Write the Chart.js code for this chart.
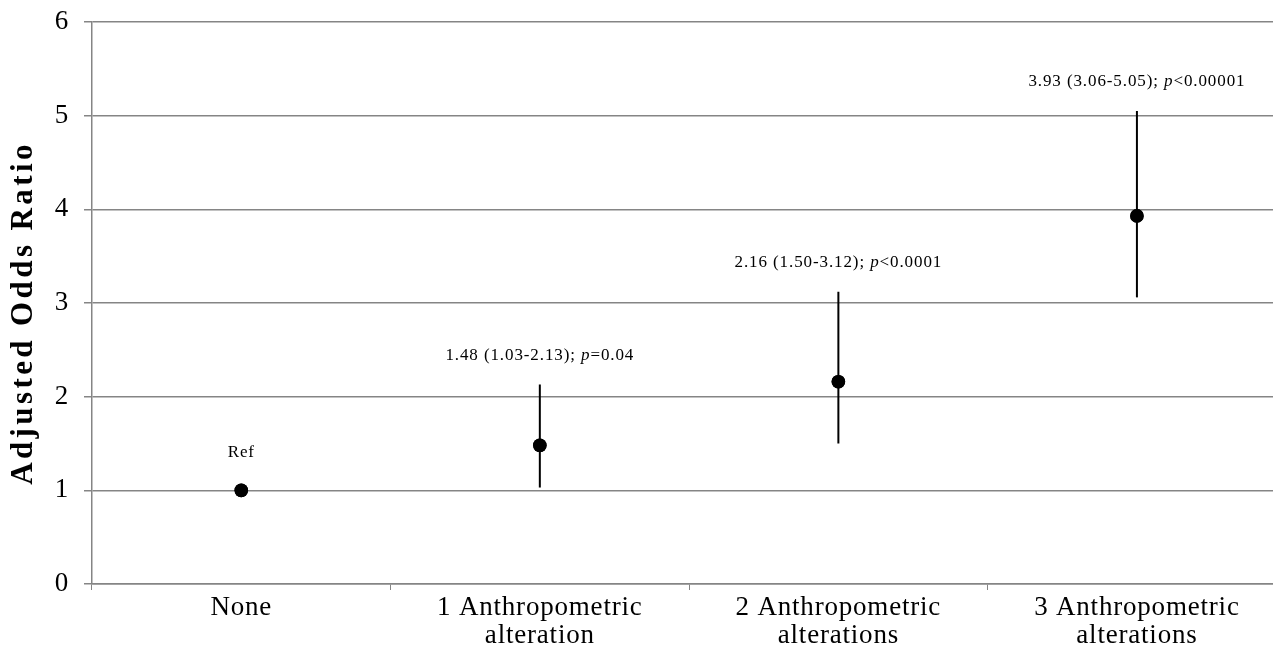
<!DOCTYPE html>
<html>
<head>
<meta charset="utf-8">
<script src="https://cdn.jsdelivr.net/npm/chart.js@4"></script>
<style>
  html, body { margin: 0; padding: 0; background: #fff; overflow: hidden; }
  #wrap { width: 1293px; height: 664px; }
</style>
</head>
<body>
<div id="wrap"><canvas id="orChart" width="1293" height="664"></canvas></div>
<script>
'use strict';

const categories = [
  ['None'],
  ['1 Anthropometric', 'alteration'],
  ['2 Anthropometric', 'alterations'],
  ['3 Anthropometric', 'alterations']
];
const oddsRatios = [1.00, 1.48, 2.16, 3.93];
const ciLower = [null, 1.03, 1.50, 3.06];
const ciUpper = [null, 2.13, 3.12, 5.05];
const pTexts = [null, '=0.04', '<0.0001', '<0.00001'];
const yTicks = [0, 1, 2, 3, 4, 5, 6];

const serif = "'Liberation Serif', 'Times New Roman', serif";
const gridGray = '#858585';

// error bars + "OR (CI); p" labels
const errorBars = {
  id: 'errorBars',
  beforeDraw(chart) {
    chart.ctx.letterSpacing = '0.8px';
  },
  afterDatasetsDraw(chart) {
    const ctx = chart.ctx;
    const x = chart.scales.x;
    const y = chart.scales.y;
    ctx.save();
    ctx.strokeStyle = '#000';
    ctx.lineWidth = 2;
    oddsRatios.forEach((v, i) => {
      if (ciLower[i] == null) return;
      const px = x.getPixelForValue(i);
      ctx.beginPath();
      ctx.moveTo(px, y.getPixelForValue(ciLower[i]));
      ctx.lineTo(px, y.getPixelForValue(ciUpper[i]));
      ctx.stroke();
    });
    // redraw points on top of the bars
    const meta = chart.getDatasetMeta(0);
    meta.data.forEach(pt => pt.draw(ctx, chart.chartArea));

    ctx.fillStyle = '#000';
    ctx.textBaseline = 'middle';
    ctx.textAlign = 'left';
    ctx.letterSpacing = '0.9px';
    oddsRatios.forEach((v, i) => {
      const px = x.getPixelForValue(i);
      let parts;
      let py;
      if (ciLower[i] == null) {
        parts = [['Ref', false]];
        py = y.getPixelForValue(v) - 38;
      } else {
        parts = [
          [v.toFixed(2) + ' (' + ciLower[i].toFixed(2) + '-' + ciUpper[i].toFixed(2) + '); ', false],
          ['p', true],
          [pTexts[i], false]
        ];
        py = y.getPixelForValue(ciUpper[i]) - 29;
      }
      let total = 0;
      parts.forEach(p => {
        ctx.font = (p[1] ? 'italic ' : '') + '17px ' + serif;
        total += ctx.measureText(p[0]).width;
      });
      let cx = px - total / 2;
      parts.forEach(p => {
        ctx.font = (p[1] ? 'italic ' : '') + '17px ' + serif;
        ctx.fillText(p[0], cx, py);
        cx += ctx.measureText(p[0]).width;
      });
    });
    ctx.restore();
  }
};

// the axis title is wider-spaced than the rest
const titleSpacing = {
  id: 'titleSpacing',
  beforeDraw(chart) {
    const ctx = chart.ctx;
    const y = chart.scales.y;
    ctx.save();
    ctx.letterSpacing = '3.4px';
    ctx.font = 'bold 31px ' + serif;
    ctx.fillStyle = '#000';
    ctx.textAlign = 'center';
    ctx.textBaseline = 'middle';
    ctx.translate(24, (y.top + y.bottom) / 2 + 10);
    ctx.rotate(-Math.PI / 2);
    ctx.fillText('Adjusted Odds Ratio', 0, 0);
    ctx.restore();
  }
};

const ctx = document.getElementById('orChart').getContext('2d');
const orChart = new Chart(ctx, {
  type: 'line',
  data: {
    labels: categories,
    datasets: [{
      data: oddsRatios,
      showLine: false,
      pointRadius: 6.8,
      pointBackgroundColor: '#000',
      pointBorderColor: '#000',
      pointBorderWidth: 0
    }]
  },
  options: {
    responsive: false,
    animation: false,
    layout: { padding: { top: 22, left: 0, right: 0, bottom: 0 } },
    plugins: {
      legend: { display: false },
      tooltip: { enabled: false }
    },
    scales: {
      x: {
        offset: true,
        grid: {
          offset: true,
          drawOnChartArea: false,
          drawTicks: true,
          tickLength: 6,
          color: gridGray
        },
        border: { color: gridGray, width: 1.5 },
        ticks: {
          color: '#000',
          font: { family: serif, size: 27, lineHeight: 1.04 },
          padding: 4,
          maxRotation: 0,
          autoSkip: false
        },
        afterFit(scale) { scale.height = 80; }
      },
      y: {
        min: 0,
        max: 6,
        afterBuildTicks(scale) {
          scale.ticks = yTicks.map(v => ({ value: v }));
        },
        grid: {
          color: gridGray,
          lineWidth: 1.5,
          tickLength: 8
        },
        border: { color: gridGray, width: 1.5 },
        ticks: {
          color: '#000',
          font: { family: serif, size: 27, lineHeight: 0.5 },
          padding: 15
        },
        afterFit(scale) { scale.width = 92; }
      }
    }
  },
  plugins: [errorBars, titleSpacing]
});
</script>
</body>
</html>
